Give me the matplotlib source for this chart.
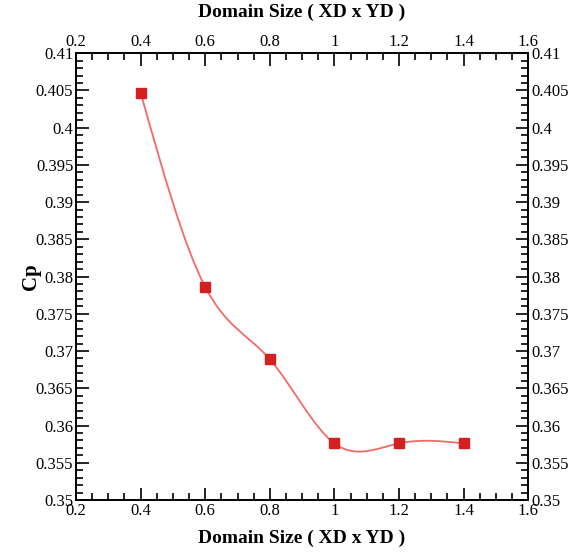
import matplotlib
matplotlib.use("Agg")
import matplotlib.pyplot as plt
import numpy as np
from matplotlib.path import Path
from matplotlib.patches import PathPatch
from matplotlib.ticker import MultipleLocator

# Data
domain_size = [0.4, 0.6, 0.8, 1.0, 1.2, 1.4]
cp = [0.4047, 0.3786, 0.3689, 0.3576, 0.3576, 0.3576]


def spline_path(x, y):
    # natural cubic spline slopes, drawn as bezier segments
    x = np.asarray(x, float)
    y = np.asarray(y, float)
    n = len(x)
    h = np.diff(x)
    A = np.zeros((n, n))
    b = np.zeros(n)
    A[0, 0] = 1
    A[-1, -1] = 1
    for i in range(1, n - 1):
        A[i, i - 1] = h[i - 1]
        A[i, i] = 2 * (h[i - 1] + h[i])
        A[i, i + 1] = h[i]
        b[i] = 6 * ((y[i + 1] - y[i]) / h[i] - (y[i] - y[i - 1]) / h[i - 1])
    m = np.linalg.solve(A, b)
    slopes = np.zeros(n)
    for i in range(n - 1):
        slopes[i] = (y[i + 1] - y[i]) / h[i] - h[i] * (2 * m[i] + m[i + 1]) / 6
    slopes[-1] = (y[-1] - y[-2]) / h[-1] + h[-1] * (m[-2] + 2 * m[-1]) / 6
    verts = [(x[0], y[0])]
    codes = [Path.MOVETO]
    for i in range(n - 1):
        d = h[i] / 3
        verts += [(x[i] + d, y[i] + slopes[i] * d),
                  (x[i + 1] - d, y[i + 1] - slopes[i + 1] * d),
                  (x[i + 1], y[i + 1])]
        codes += [Path.CURVE4] * 3
    return Path(verts, codes)


plt.rcParams['font.family'] = ['Liberation Serif', 'DejaVu Serif']

fig = plt.figure(figsize=(5.76, 5.54), dpi=100)
ax = fig.add_axes([0.132, 0.0975, 0.785, 0.8065])

ax.add_patch(PathPatch(spline_path(domain_size, cp), facecolor='none',
                       edgecolor='#f26a6a', lw=1.3))
ax.plot(domain_size, cp, 's', color='#d42020', ms=7, mec='#d42020')

ax.set_xlim(0.2, 1.6)
ax.set_ylim(0.35, 0.41)
ax.xaxis.set_major_locator(MultipleLocator(0.2))
ax.xaxis.set_minor_locator(MultipleLocator(0.05))
ax.yaxis.set_major_locator(MultipleLocator(0.005))
ax.yaxis.set_minor_locator(MultipleLocator(0.001))

ax.tick_params(which='both', direction='in', top=True, right=True,
               labeltop=True, labelright=True, labelsize=12, width=1.2)
ax.tick_params(which='major', length=9, pad=2)
ax.tick_params(which='minor', length=5)
for s in ax.spines.values():
    s.set_linewidth(1.4)

ax.xaxis.set_major_formatter(plt.FuncFormatter(lambda v, p: f"{v:g}"))
ax.yaxis.set_major_formatter(plt.FuncFormatter(lambda v, p: f"{v:g}"))

ax.set_xlabel('Domain Size ( XD x YD )', fontsize=14, fontweight='bold', labelpad=8)
ax.set_ylabel('Cp', fontsize=15, fontweight='bold', labelpad=-4)
ax.set_title('Domain Size ( XD x YD )', fontsize=14, fontweight='bold', pad=26)

fig.savefig('out.png', dpi=100)
